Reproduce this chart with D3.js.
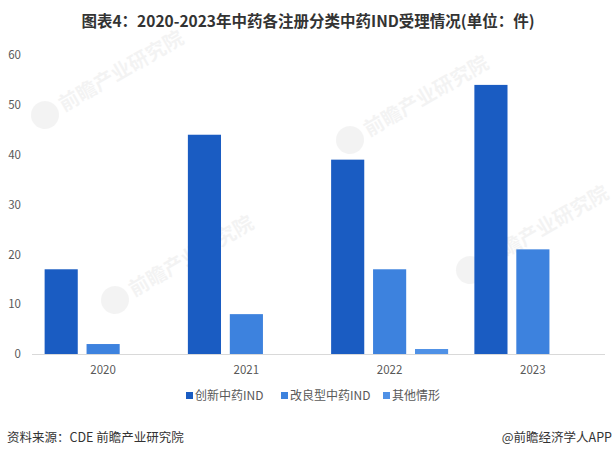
<!DOCTYPE html>
<html><head><meta charset="utf-8">
<script src="https://cdn.jsdelivr.net/npm/d3@7"></script>
<style>body{margin:0;background:#fff}svg{display:block}</style>
</head><body>
<script>
const categories = ["2020","2021","2022","2023"];
const seriesNames = ["创新中药IND","改良型中药IND","其他情形"];
const innovative = [17,44,39,54];
const improved = [2,8,17,21];
const other = [0,0,1,0];
const yTicks = [0,10,20,30,40,50,60];
const colors = ["#1A5CC2","#3D82DE","#4F91E6"];

const W=616,H=455;
const svg=d3.select("body").append("svg").attr("width",W).attr("height",H);
const font="'Noto Sans CJK SC','Microsoft YaHei',sans-serif";

svg.append("text").attr("x",308).attr("y",27).attr("text-anchor","middle")
  .attr("font-family",font).attr("font-weight","bold").attr("font-size",15.5).attr("fill","#333")
  .text("图表4：2020-2023年中药各注册分类中药IND受理情况(单位：件)");

// faint watermarks
const wm=[[45,115],[350,140],[115,300],[470,270]];
wm.forEach(([x,y])=>{
  const g=svg.append("g").attr("transform",`translate(${x},${y}) rotate(-30)`).attr("opacity",0.05);
  g.append("circle").attr("cx",0).attr("cy",0).attr("r",14).attr("fill","#333");
  g.append("text").attr("x",18).attr("y",7).attr("font-family",font).attr("font-weight","bold").attr("font-size",20).attr("fill","#333").text("前瞻产业研究院");
});

const y=d3.scaleLinear().domain([0,60]).range([354,55]);
const x=d3.scaleBand().domain(categories).range([31.5,604.5]);
const xs=d3.scaleBand().domain(seriesNames).range([-58.5,58.5]).paddingInner(0.21);

const yAxis=svg.append("g").attr("transform","translate(21,0)")
  .call(d3.axisLeft(y).tickValues(yTicks).tickSize(0).tickPadding(0));
yAxis.select(".domain").remove();
yAxis.selectAll("text").attr("font-family",font).attr("font-size",11.5).attr("fill","#595959");

const data=[innovative,improved,other];
categories.forEach((c,i)=>{
  const cx=x(c)+x.bandwidth()/2;
  seriesNames.forEach((s,j)=>{
    const v=data[j][i];
    if(v<=0) return;
    svg.append("rect").attr("x",cx+xs(s)).attr("width",xs.bandwidth())
      .attr("y",y(v)).attr("height",y(0)-y(v)).attr("fill",colors[j]);
  });
});

const xAxis=svg.append("g").attr("transform","translate(0,354)")
  .call(d3.axisBottom(x).tickSize(0).tickPadding(12));
xAxis.select(".domain").attr("stroke","#d9d9d9").attr("stroke-width",1);
xAxis.selectAll("text").attr("font-family",font).attr("font-size",11.5).attr("fill","#595959");

// legend
const legX=[186,281,383];
seriesNames.forEach((s,j)=>{
  svg.append("rect").attr("x",legX[j]).attr("y",392).attr("width",7).attr("height",7).attr("fill",colors[j]);
  svg.append("text").attr("x",legX[j]+9).attr("y",400).attr("font-family",font).attr("font-size",12).attr("fill","#595959").text(s);
});

svg.append("text").attr("x",7).attr("y",442).attr("font-family",font).attr("font-size",12.5).attr("fill","#333").text("资料来源：CDE 前瞻产业研究院");
svg.append("text").attr("x",612).attr("y",442).attr("text-anchor","end").attr("font-family",font).attr("font-size",12.5).attr("fill","#333").text("@前瞻经济学人APP");
</script>
</body></html>
